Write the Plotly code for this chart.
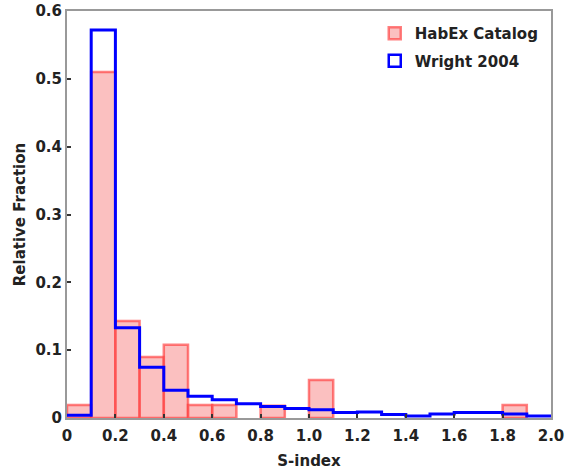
import plotly.graph_objects as go

bin_edges = [round(i * 0.1, 1) for i in range(21)]
habex = [0.019, 0.51, 0.143, 0.090, 0.108, 0.019, 0.019, 0.0, 0.018, 0.0,
         0.056, 0.0, 0.0, 0.0, 0.0, 0.0, 0.0, 0.0, 0.019, 0.0]
wright = [0.004, 0.572, 0.133, 0.075, 0.041, 0.032, 0.027, 0.021, 0.017, 0.014,
          0.012, 0.008, 0.009, 0.005, 0.003, 0.006, 0.008, 0.008, 0.006, 0.003]
x_tickvals = [0, 0.2, 0.4, 0.6, 0.8, 1.0, 1.2, 1.4, 1.6, 1.8, 2.0]
x_ticktext = ["0", "0.2", "0.4", "0.6", "0.8", "1.0", "1.2", "1.4", "1.6", "1.8", "2.0"]
y_tickvals = [0, 0.1, 0.2, 0.3, 0.4, 0.5, 0.6]
y_ticktext = ["0", "0.1", "0.2", "0.3", "0.4", "0.5", "0.6"]

centers = [(bin_edges[i] + bin_edges[i + 1]) / 2 for i in range(len(habex))]
habex_plot = [v if v > 0 else None for v in habex]

font_family = "DejaVu Sans"

fig = go.Figure()
fig.add_trace(go.Bar(
    x=centers, y=habex_plot, width=0.1,
    marker=dict(color="rgba(248,150,150,0.6)",
                line=dict(color="rgba(255,60,60,0.65)", width=2.5)),
    name="HabEx Catalog", showlegend=True, legendgroup="a",
))
fig.add_trace(go.Scatter(
    x=bin_edges, y=wright + [wright[-1]], mode="lines",
    line=dict(color="#0000ff", width=3, shape="hv"),
    showlegend=False, hoverinfo="skip",
))
fig.add_trace(go.Bar(
    x=[None], y=[None],
    marker=dict(color="rgba(255,255,255,0)", line=dict(color="#0000ff", width=2.5)),
    name="Wright 2004", showlegend=True, legendgroup="b",
))

fig.update_layout(
    width=565, height=473,
    margin=dict(l=67, r=14, t=11, b=55),
    plot_bgcolor="white", paper_bgcolor="white",
    barmode="overlay",
    font=dict(family=font_family, size=15, color="#222"),
    showlegend=True,
    legend=dict(x=0.985, y=0.985, xanchor="right", yanchor="top",
                bgcolor="rgba(0,0,0,0)", font=dict(size=15, family=font_family, weight="bold"),
                tracegroupgap=5, itemwidth=30),
)
fig.update_xaxes(
    range=[0, 2.0], tickvals=x_tickvals, ticktext=x_ticktext, automargin=False,
    ticks="inside", ticklen=4, tickwidth=1.5, tickcolor="#333",
    showline=True, linecolor="#999", linewidth=2, mirror=True,
    showgrid=False, zeroline=False, ticklabelstandoff=3,
    tickfont=dict(size=15, family=font_family, weight="bold", color="#222"),
    title=dict(text="S-index", font=dict(size=15, family=font_family, weight="bold", color="#222"), standoff=11),
)
fig.update_yaxes(
    range=[0, 0.6], tickvals=y_tickvals, ticktext=y_ticktext, automargin=False,
    ticks="inside", ticklen=4, tickwidth=1.5, tickcolor="#333",
    showline=True, linecolor="#999", linewidth=2, mirror=True,
    showgrid=False, zeroline=False,
    tickfont=dict(size=15, family=font_family, weight="bold", color="#222"),
    title=dict(text="Relative Fraction", font=dict(size=15, family=font_family, weight="bold", color="#222"), standoff=6),
)

fig.write_html("out.html", config={"displayModeBar": False},
               post_script="document.body.style.margin='0';")
